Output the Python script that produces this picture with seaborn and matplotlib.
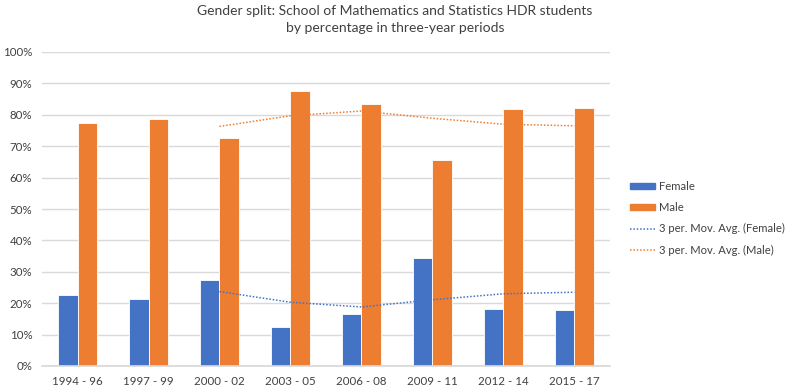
import matplotlib
matplotlib.use("Agg")
import matplotlib.pyplot as plt
import matplotlib.ticker as mtick
from matplotlib.patches import Patch
from matplotlib.lines import Line2D
import numpy as np
import pandas as pd
import seaborn as sns

periods = ["1994 - 96", "1997 - 99", "2000 - 02", "2003 - 05",
           "2006 - 08", "2009 - 11", "2012 - 14", "2015 - 17"]
female = [22.7, 21.2, 27.3, 12.4, 16.6, 34.4, 18.1, 17.9]
male = [77.3, 78.8, 72.7, 87.6, 83.4, 65.6, 81.9, 82.1]
# moving-average trendline values (start at third period)
female_ma = [np.nan, np.nan, 23.7, 20.3, 18.8, 21.1, 23.0, 23.5]
male_ma = [np.nan, np.nan, 76.3, 79.7, 81.2, 78.9, 77.0, 76.5]

blue = "#4472C4"
orange = "#ED7D31"
dots = (0, (1, 1.2))

df = pd.DataFrame({
    "period": periods * 2,
    "pct": female + male,
    "gender": ["Female"] * len(periods) + ["Male"] * len(periods),
})

sns.set_theme(style="white")
plt.rcParams["font.family"] = ["Lato", "DejaVu Sans"]

fig = plt.figure(figsize=(7.9, 3.9), dpi=100)
ax = fig.add_axes([42 / 790, 24 / 390, 568 / 790, 314 / 390])

sns.barplot(data=df, x="period", y="pct", hue="gender",
            palette=[blue, orange], saturation=1, width=0.56, ax=ax,
            edgecolor="white", linewidth=0.6, legend=False)

x = np.arange(len(periods))
ax.plot(x, female_ma, color=blue, linestyle=dots, linewidth=1.1)
ax.plot(x, male_ma, color=orange, linestyle=dots, linewidth=1.1)

ax.set_ylim(0, 100)
ax.set_xlim(-0.5, len(periods) - 0.5)
ax.set_yticks(range(0, 101, 10))
ax.yaxis.set_major_formatter(mtick.PercentFormatter(decimals=0))
ax.yaxis.grid(True, color="#D9D9D9", linewidth=1)
ax.set_axisbelow(True)
for s in ["top", "right", "left"]:
    ax.spines[s].set_visible(False)
ax.spines["bottom"].set_color("#D9D9D9")
ax.tick_params(axis="both", labelsize=8.3, colors="#404040", length=0, pad=7)
ax.set_xlabel("")
ax.set_ylabel("")

fig.text(0.5, 0.987, "Gender split: School of Mathematics and Statistics HDR students\n"
         "by percentage in three-year periods", ha="center", va="top",
         fontsize=10, color="#404040", linespacing=1.45)

handles = [Patch(color=blue), Patch(color=orange),
           Line2D([], [], color=blue, linestyle=dots, linewidth=1.1),
           Line2D([], [], color=orange, linestyle=dots, linewidth=1.1)]
labels = ["Female", "Male", "3 per. Mov. Avg. (Female)", "3 per. Mov. Avg. (Male)"]
leg = fig.legend(handles, labels, loc="upper left",
                 bbox_to_anchor=(620 / 790, 1 - 171 / 390),
                 frameon=False, fontsize=8.1, handlelength=2.2, handleheight=0.45,
                 labelspacing=0.9, handletextpad=0.35)
for t in leg.get_texts():
    t.set_color("#404040")

fig.savefig("out.png", dpi=100)
